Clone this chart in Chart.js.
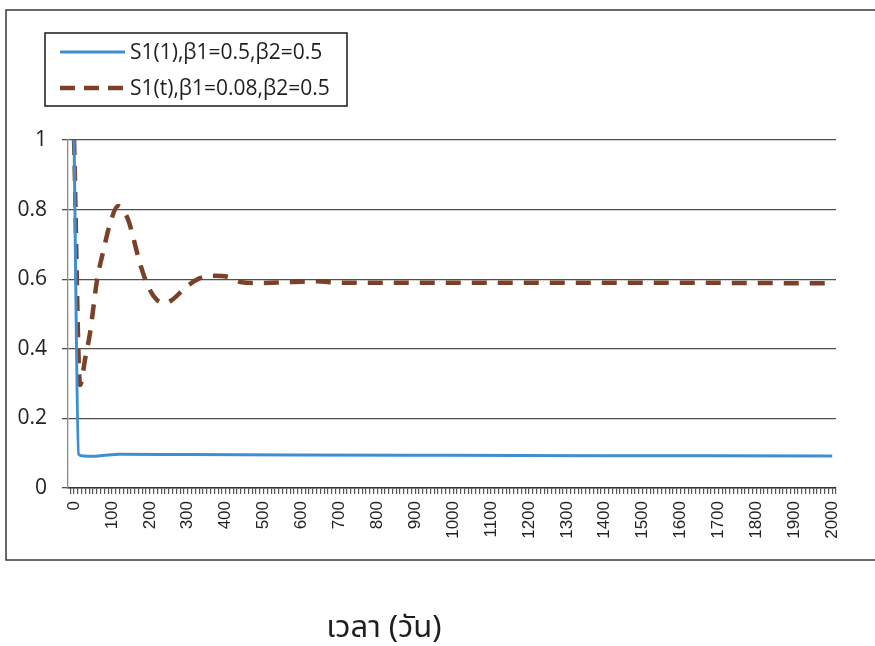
<!DOCTYPE html>
<html>
<head>
<meta charset="utf-8">
<title>S1(t)</title>
<script src="https://cdn.jsdelivr.net/npm/chart.js@4.4.1/dist/chart.umd.min.js"></script>
<style>
  html, body { margin: 0; padding: 0; background: #ffffff; }
  #wrap { width: 875px; height: 646px; }
</style>
</head>
<body>
<div id="wrap"><canvas id="chart" width="875" height="646"></canvas></div>
<script>
// Time (days) and S1 values, beta1 = 0.5, beta2 = 0.5
const daysA = [0, 12, 25, 50, 80, 120, 300, 600, 1000, 1400, 2000];
const valuesA = [1.0, 0.097, 0.092, 0.091, 0.094, 0.097, 0.096, 0.095, 0.094, 0.093, 0.092];

// Time (days) and S1 values, beta1 = 0.08, beta2 = 0.5
const daysB = [0, 16, 29, 42, 61, 77, 95, 116, 143, 156, 174, 195, 219, 240, 258, 293, 332, 367, 404, 438, 491, 580, 640, 700, 1000, 1500, 2000];
const valuesB = [1.0, 0.296, 0.37, 0.445, 0.60, 0.68, 0.76, 0.81, 0.77, 0.72, 0.645, 0.58, 0.54, 0.532, 0.54, 0.575, 0.603, 0.61, 0.607, 0.592, 0.589, 0.592, 0.594, 0.59, 0.59, 0.59, 0.588];

const seriesLabels = ['S1(1),\u03B21=0.5,\u03B22=0.5', 'S1(t),\u03B21=0.08,\u03B22=0.5'];
const yTicks = [0, 0.2, 0.4, 0.6, 0.8, 1];
const xAxisTitle = 'เวลา (วัน)';

const toPoints = (xs, ys) => xs.map((x, i) => ({ x: x, y: ys[i] }));

// Outer frame and axis caption
const framePlugin = {
  id: 'frame',
  beforeDraw(chart, args, opts) {
    const ctx = chart.ctx;
    ctx.save();
    ctx.fillStyle = '#ffffff';
    ctx.fillRect(0, 0, chart.width, chart.height);
    ctx.strokeStyle = '#3a3a3a';
    ctx.lineWidth = 1.5;
    ctx.strokeRect(opts.left, opts.top, opts.right - opts.left, opts.bottom - opts.top);
    ctx.restore();
  },
  afterDraw(chart, args, opts) {
    const ctx = chart.ctx;
    ctx.save();
    ctx.fillStyle = '#1e1e1e';
    ctx.font = opts.captionFont;
    ctx.textAlign = 'center';
    ctx.textBaseline = 'middle';
    ctx.fillText(xAxisTitle, opts.captionX, opts.captionY);
    ctx.restore();
  }
};

// Legend drawn as a boxed, stacked list
const boxedLegend = {
  id: 'boxedLegend',
  afterDraw(chart, args, opts) {
    const ctx = chart.ctx;
    ctx.save();
    ctx.strokeStyle = '#1a1a1a';
    ctx.lineWidth = 1.5;
    ctx.strokeRect(opts.x, opts.y, opts.width, opts.height);
    chart.data.datasets.forEach((ds, i) => {
      const cy = opts.y + opts.firstRow + i * opts.rowGap;
      ctx.save();
      ctx.strokeStyle = ds.borderColor;
      ctx.lineWidth = ds.borderWidth;
      ctx.setLineDash(ds.legendDash || []);
      ctx.lineCap = 'butt';
      ctx.beginPath();
      ctx.moveTo(opts.x + opts.sampleStart, cy);
      ctx.lineTo(opts.x + opts.sampleStart + opts.sampleLen, cy);
      ctx.stroke();
      ctx.restore();
      ctx.fillStyle = '#1e1e1e';
      ctx.font = opts.font;
      ctx.textAlign = 'left';
      ctx.textBaseline = 'middle';
      ctx.fillText(ds.label, opts.x + opts.textStart, cy + 1);
    });
    ctx.restore();
  }
};

new Chart(document.getElementById('chart'), {
  type: 'line',
  data: {
    datasets: [
      {
        label: seriesLabels[0],
        data: toPoints(daysA, valuesA),
        borderColor: '#3f8fd0',
        borderWidth: 3,
        pointRadius: 0,
        cubicInterpolationMode: 'monotone',
        fill: false
      },
      {
        label: seriesLabels[1],
        data: toPoints(daysB, valuesB),
        borderColor: '#7a4128',
        borderWidth: 4.5,
        borderDash: [15, 11],
        legendDash: [15, 9],
        pointRadius: 0,
        cubicInterpolationMode: 'monotone',
        fill: false
      }
    ]
  },
  options: {
    responsive: false,
    animation: false,
    layout: { padding: { left: 0, top: 140, right: 39, bottom: 0 } },
    plugins: {
      legend: { display: false },
      tooltip: { enabled: false },
      frame: {
        left: 6, top: 10, right: 890, bottom: 560,
        captionX: 384, captionY: 631,
        captionFont: '31px "Noto Sans Thai", "Loma", "Garuda", "Noto Sans", sans-serif'
      },
      boxedLegend: {
        x: 45, y: 33, width: 302, height: 73,
        firstRow: 19, rowGap: 36,
        sampleStart: 15, sampleLen: 65, textStart: 85,
        font: '21px "Open Sans", sans-serif'
      }
    },
    scales: {
      x: {
        type: 'linear',
        min: -16,
        max: 2010,
        afterFit(scale) { scale.height = 158; },
        grid: { drawOnChartArea: false, tickLength: 6, color: '#555555', lineWidth: 1.2 },
        border: { display: true, color: '#333333', width: 1.5 },
        ticks: {
          stepSize: 10,
          autoSkip: false,
          includeBounds: false,
          minRotation: 90,
          maxRotation: 90,
          padding: 7,
          color: '#222222',
          font: { family: '"Liberation Sans", Arial, sans-serif', size: 17 },
          callback: (v) => (v >= 0 && v % 100 === 0 ? String(v) : '')
        }
      },
      y: {
        min: 0,
        max: 1,
        afterFit(scale) { scale.width = 68; },
        afterBuildTicks(scale) { scale.ticks = yTicks.map(v => ({ value: v })); },
        grid: { color: '#505050', lineWidth: 1.3, tickLength: 6 },
        border: { display: true, color: '#8a8a8a', width: 1.3 },
        ticks: {
          padding: 15,
          color: '#222222',
          font: { family: '"Open Sans", sans-serif', size: 21 },
          callback: (v) => String(Math.round(v * 10) / 10)
        }
      }
    }
  },
  plugins: [framePlugin, boxedLegend]
});
</script>
</body>
</html>
